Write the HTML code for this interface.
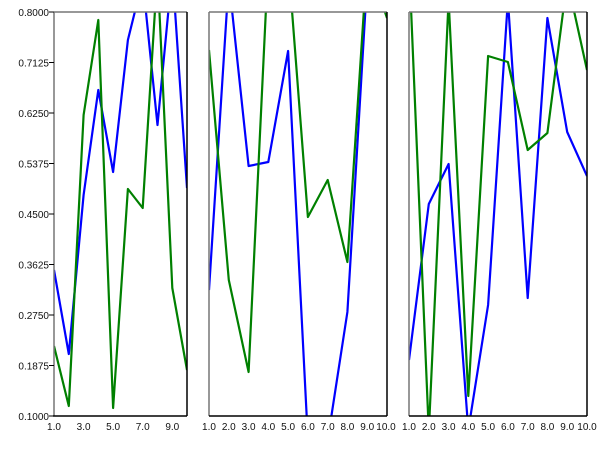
<!DOCTYPE html>
<html><head><style>body{margin:0;background:#fff}svg{display:block}text{font-family:"Liberation Sans",sans-serif;font-size:10px;fill:#111}</style></head><body>
<svg width="600" height="450" xmlns="http://www.w3.org/2000/svg">
<defs>
<clipPath id="c1"><rect x="54" y="12" width="133" height="404"/></clipPath>
<clipPath id="c2"><rect x="209" y="12" width="178" height="404"/></clipPath>
<clipPath id="c3"><rect x="409" y="12" width="178" height="404"/></clipPath>
</defs>
<g fill="none" stroke-width="2.2" stroke-linejoin="round" clip-path="url(#c1)">
<polyline stroke="#0000ff" points="54,270 68.8,354 83.6,195 98.3,90 113.1,172 127.9,40 142.7,-20 157.5,125 172.3,-30 187,188"/>
<polyline stroke="#008000" points="54,346 68.8,406 83.6,115 98.3,20 113.1,408 127.9,189 142.7,208 157.5,-30 172.3,288 187,370"/>
</g>
<g fill="none" stroke-width="2.2" stroke-linejoin="round" clip-path="url(#c2)">
<polyline stroke="#0000ff" points="209,290 228.8,-20 248.6,166 268.3,162 288.1,51 307.9,440 327.7,440 347.4,312 367.2,-20 387,-20"/>
<polyline stroke="#008000" points="209,50 228.8,280 248.6,372 268.3,-40 288.1,-40 307.9,217 327.7,180 347.4,262 367.2,-40 387,18"/>
</g>
<g fill="none" stroke-width="2.2" stroke-linejoin="round" clip-path="url(#c3)">
<polyline stroke="#0000ff" points="409,360 428.8,204 448.6,164 468.3,430 488.1,305 507.9,0 527.7,298 547.4,18 567.2,132 587,176"/>
<polyline stroke="#008000" points="409,-40 428.8,432 448.6,0 468.3,396 488.1,56 507.9,62 527.7,150 547.4,133 567.2,-20 587,70"/>
</g>
<g stroke-width="1.5">
<line x1="54" y1="12" x2="187" y2="12" stroke="#777"/><line x1="54" y1="12" x2="54" y2="416" stroke="#777"/>
<line x1="187" y1="12" x2="187" y2="416" stroke="#000"/><line x1="53" y1="416" x2="187" y2="416" stroke="#000"/>
<line x1="209" y1="12" x2="387" y2="12" stroke="#777"/><line x1="209" y1="12" x2="209" y2="416" stroke="#777"/>
<line x1="387" y1="12" x2="387" y2="416" stroke="#000"/><line x1="209" y1="416" x2="387" y2="416" stroke="#000"/>
<line x1="409" y1="12" x2="587" y2="12" stroke="#777"/><line x1="409" y1="12" x2="409" y2="416" stroke="#777"/>
<line x1="587" y1="12" x2="587" y2="416" stroke="#000"/><line x1="409" y1="416" x2="587" y2="416" stroke="#000"/>
</g>
<g stroke="#000" stroke-width="1">
<line x1="49" y1="12" x2="54" y2="12"/><line x1="49" y1="62.5" x2="54" y2="62.5"/><line x1="49" y1="113" x2="54" y2="113"/><line x1="49" y1="163.5" x2="54" y2="163.5"/><line x1="49" y1="214" x2="54" y2="214"/><line x1="49" y1="264.5" x2="54" y2="264.5"/><line x1="49" y1="315" x2="54" y2="315"/><line x1="49" y1="365.5" x2="54" y2="365.5"/><line x1="49" y1="416" x2="54" y2="416"/>
</g>
<g text-anchor="end">
<text x="49" y="16">0.8000</text><text x="49" y="66.5">0.7125</text><text x="49" y="117">0.6250</text><text x="49" y="167.5">0.5375</text><text x="49" y="218">0.4500</text><text x="49" y="268.5">0.3625</text><text x="49" y="319">0.2750</text><text x="49" y="369.5">0.1875</text><text x="49" y="420">0.1000</text>
</g>
<g text-anchor="middle">
<text x="54" y="430">1.0</text><text x="83.6" y="430">3.0</text><text x="113.1" y="430">5.0</text><text x="142.7" y="430">7.0</text><text x="172.3" y="430">9.0</text>
<text x="209" y="430">1.0</text><text x="228.8" y="430">2.0</text><text x="248.6" y="430">3.0</text><text x="268.3" y="430">4.0</text><text x="288.1" y="430">5.0</text><text x="307.9" y="430">6.0</text><text x="327.7" y="430">7.0</text><text x="347.4" y="430">8.0</text><text x="367.2" y="430">9.0</text><text x="386" y="430">10.0</text>
<text x="409" y="430">1.0</text><text x="428.8" y="430">2.0</text><text x="448.6" y="430">3.0</text><text x="468.3" y="430">4.0</text><text x="488.1" y="430">5.0</text><text x="507.9" y="430">6.0</text><text x="527.7" y="430">7.0</text><text x="547.4" y="430">8.0</text><text x="567.2" y="430">9.0</text><text x="587" y="430">10.0</text>
</g>
</svg>
</body></html>
